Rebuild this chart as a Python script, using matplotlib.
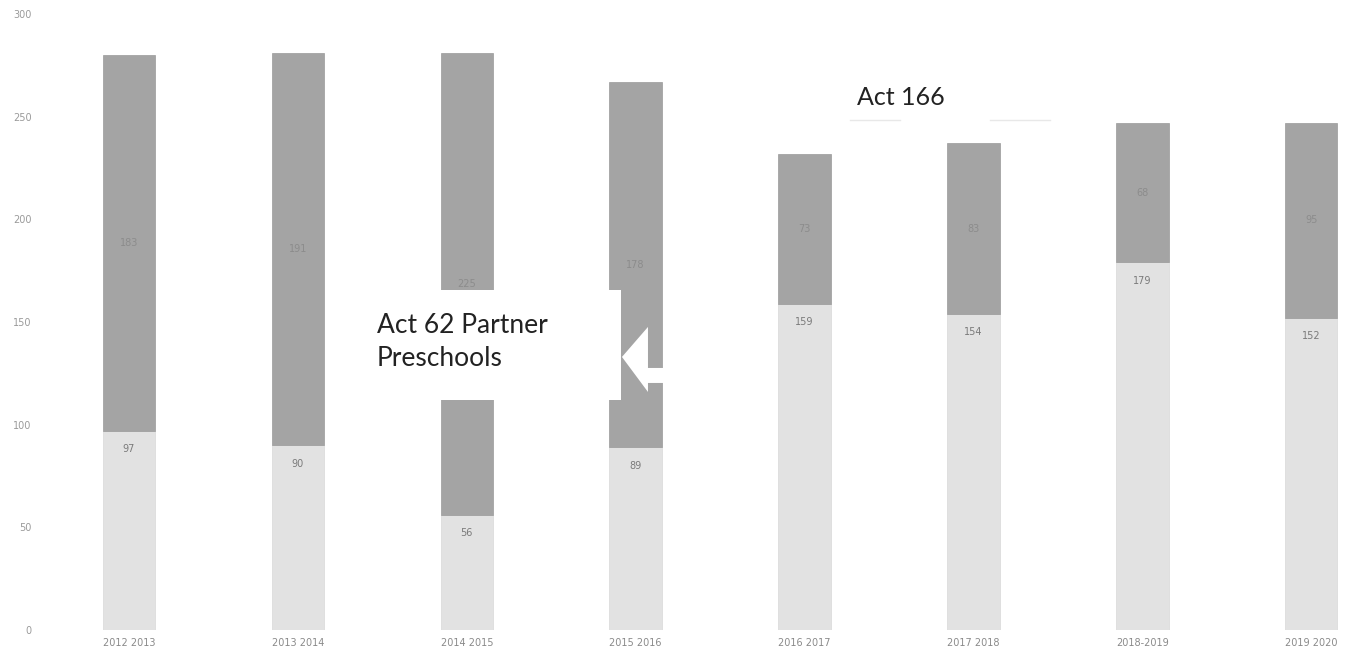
import matplotlib
matplotlib.use("Agg")
import matplotlib.pyplot as plt
from matplotlib.patches import Rectangle, Polygon

years = ["2012 2013", "2013 2014", "2014 2015", "2015 2016",
         "2016 2017", "2017 2018", "2018-2019", "2019 2020"]
light_vals = [97, 90, 56, 89, 159, 154, 179, 152]
dark_vals = [183, 191, 225, 178, 73, 83, 68, 95]
yticks = [0, 50, 100, 150, 200, 250, 300]

W, H = 1351, 657
fig = plt.figure(figsize=(W / 100, H / 100), dpi=100)
ax = fig.add_axes([40 / W, 27 / H, (1345 - 40) / W, (630 - 14) / H])

x = list(range(len(years)))
light_c = "#e2e2e2"
dark_c = "#a4a4a4"
bw = 0.31
ax.bar(x, light_vals, width=bw, color=light_c, edgecolor="#d8d8d8", linewidth=0.5)
ax.bar(x, dark_vals, width=bw, bottom=light_vals, color=dark_c, edgecolor="#9a9a9a", linewidth=0.5)

for xi, lv, dv in zip(x, light_vals, dark_vals):
    ax.text(xi, lv - 9, str(lv), ha="center", va="center", fontsize=7, color="#7a7a7a")
    ax.text(xi, lv + dv / 2, str(dv), ha="center", va="center", fontsize=7, color="#8c8c8c")

ax.set_xlim(-0.527, 7.2)
ax.set_ylim(0, 300)
ax.set_yticks(yticks)
ax.set_yticklabels([str(t) for t in yticks], fontsize=7, color="#9a9a9a")
ax.set_xticks(x)
ax.set_xticklabels(years, fontsize=7, color="#8a8a8a")
ax.tick_params(length=0, pad=6)
for s in ax.spines.values():
    s.set_visible(False)

px = lambda p: (p - 129) / 168.9
py = lambda p: (630 - p) / 2.053

# White text box covering part of bars 3 and 4
ax.add_patch(Rectangle((px(365), py(400)), px(621) - px(365), py(290) - py(400),
                       facecolor="white", edgecolor="none", zorder=5))
ax.text(px(377), py(342), "Act 62 Partner\nPreschools", fontsize=19, family="Lato",
        color="#222222", ha="left", va="center", linespacing=1.4, zorder=6)

# White arrow pointing left into bar 4
arrow = Polygon([(px(622), py(357)), (px(648), py(327)), (px(648), py(368)),
                 (px(666), py(368)), (px(666), py(383)), (px(648), py(383)),
                 (px(648), py(392))],
                closed=True, facecolor="white", edgecolor="none", zorder=6)
ax.add_patch(arrow)

ax.text(px(857), py(98), "Act 166", fontsize=18, family="Lato",
        color="#222222", ha="left", va="center", zorder=6)
ax.plot([px(850), px(900)], [py(120), py(120)], color="#e8e8e8", lw=1, zorder=6)
ax.plot([px(990), px(1050)], [py(120), py(120)], color="#e8e8e8", lw=1, zorder=6)

fig.savefig("out.png", dpi=100)
